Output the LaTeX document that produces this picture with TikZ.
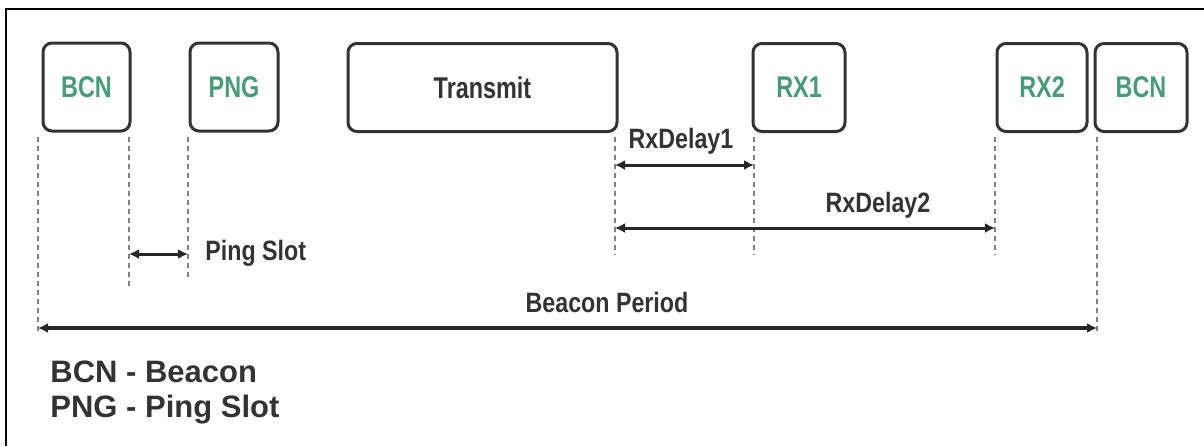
\documentclass[tikz,border=0pt]{standalone}
\usepackage{fontspec}
\setmainfont{Liberation Sans}
\newfontfamily\slotsf[FakeStretch=0.78]{Liberation Sans}
\newfontfamily\narrowsf[FakeStretch=0.83]{Liberation Sans}
\usetikzlibrary{arrows.meta}
\definecolor{slotgreen}{HTML}{4A9A7A}
\definecolor{inkgray}{HTML}{333333}
\begin{document}
\begin{tikzpicture}[x=0.5pt,y=-0.5pt,
  slot/.style={draw=inkgray,line width=1.5pt,rounded corners=4.5pt,minimum height=44pt,inner sep=0pt,
    font=\slotsf\bfseries\fontsize{15}{18}\selectfont,text=slotgreen},
  guide/.style={draw=gray,line width=0.8pt,dash pattern=on 2.5pt off 2pt},
  span/.style={{Latex[length=5pt,width=5pt]}-{Latex[length=5pt,width=5pt]},line width=1.5pt,draw=black!85},
  lbl/.style={font=\narrowsf\bfseries\fontsize{14}{16}\selectfont,text=inkgray,inner sep=0pt},
  legend/.style={font=\bfseries\fontsize{15.5}{18}\selectfont,text=black!80,anchor=west,inner sep=0pt}]
\useasboundingbox (0,0) rectangle (1204,446);
% frame
\draw[line width=1.2pt] (1204,9) -- (6,9) -- (6,446);
% slots
\node[slot,minimum width=43.5pt] (bcnA) at (86.5,87) {BCN};
\node[slot,minimum width=44pt] (png) at (234,87) {PNG};
\node[slot,minimum width=134.5pt,text=inkgray] (tx) at (482.5,87.5) {Transmit};
\node[slot,minimum width=46pt] (rxA) at (799,87.5) {RX1};
\node[slot,minimum width=45pt] (rxB) at (1042,87.5) {RX2};
\node[slot,minimum width=46pt] (bcnB) at (1141,87.5) {BCN};
% guide lines
\foreach \n/\x/\ya/\yb in {g0/38/137/332,g1/129/137/287,g2/188/137/277,g3/615/137/255,g4/754/137/255,g5/995/137/255,g6/1097/137/335}{
  \coordinate (\n t) at (\x,\ya);
  \coordinate (\n b) at (\x,\yb);
  \draw[guide] (\n t) -- (\n b);
}
% spans
\coordinate (pingL) at (129,254); \coordinate (pingR) at (188,254);
\coordinate (rdA) at (615,165);   \coordinate (rdAe) at (754,165);
\coordinate (rdB) at (615,228);   \coordinate (rdBe) at (995,228);
\coordinate (perL) at (38,328);   \coordinate (perR) at (1097,328);
\draw[span] (pingL) -- (pingR);
\draw[span] (rdA) -- (rdAe);
\draw[span] (rdB) -- (rdBe);
\draw[span,line width=2pt] (perL) -- (perR);
\node[lbl,anchor=west] (pingtxt) at (205,253) {Ping Slot};
\node[lbl] (rdAtxt) at (681,141) {RxDelay1};
\node[lbl] (rdBtxt) at (878,205) {RxDelay2};
\node[lbl] (pertxt) at (607,302) {Beacon Period};
% legend
\node[legend] (legA) at (50,372) {BCN - Beacon};
\node[legend] (legB) at (50,410) {PNG - Ping Slot};
\end{tikzpicture}
\end{document}
